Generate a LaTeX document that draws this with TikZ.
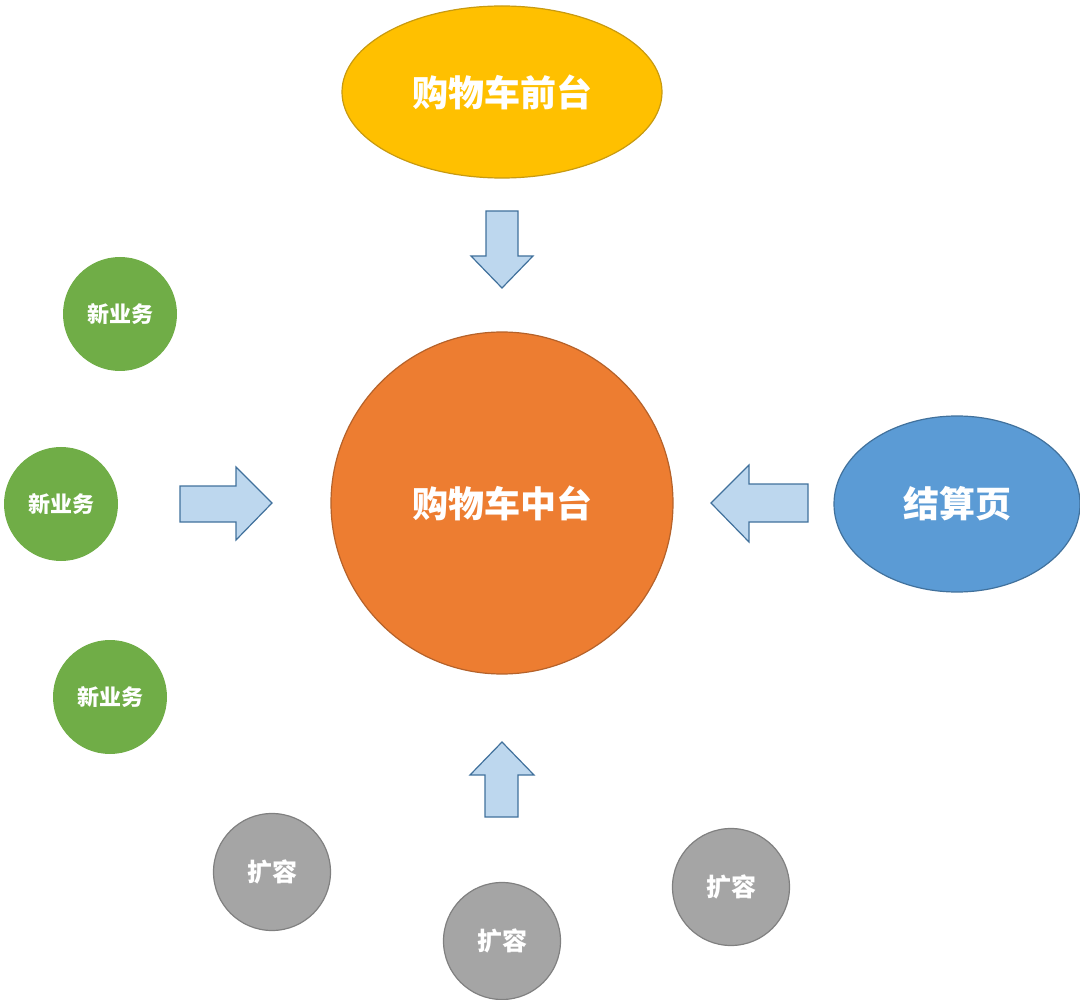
\documentclass[tikz,border=0pt]{standalone}
\usepackage{fontspec}
\newfontfamily\cjk{Noto Sans CJK SC}
\usetikzlibrary{shapes.geometric}
\definecolor{cyellow}{HTML}{FFC000}
\definecolor{cyellowb}{HTML}{C89A10}
\definecolor{corange}{HTML}{ED7D31}
\definecolor{corangeb}{HTML}{B5622A}
\definecolor{cblue}{HTML}{5B9BD5}
\definecolor{cblueb}{HTML}{41719C}
\definecolor{cgreen}{HTML}{70AD47}
\definecolor{cgray}{HTML}{A5A5A5}
\definecolor{cgrayb}{HTML}{808080}
\definecolor{carrow}{HTML}{BDD7EE}
\definecolor{carrowb}{HTML}{41719C}
\tikzset{
  lbl/.style={text=white,font=\cjk\bfseries},
  bigell/.style={ellipse,inner sep=0pt,line width=1.2pt,lbl,font=\cjk\bfseries\fontsize{36}{42}\selectfont},
  greenc/.style={circle,fill=cgreen,minimum size=114pt,inner sep=0pt,lbl,font=\cjk\bfseries\fontsize{22}{26}\selectfont},
  grayc/.style={circle,fill=cgray,draw=cgrayb,line width=1.2pt,minimum size=117pt,inner sep=0pt,lbl,font=\cjk\bfseries\fontsize{25}{29}\selectfont},
  blockarrow/.style={fill=carrow,draw=carrowb,line width=1.2pt,line join=miter},
}
\begin{document}
\begin{tikzpicture}[x=1pt,y=-1pt]
\useasboundingbox (0,0) rectangle (1080,1000);
% main shapes
\node[bigell,fill=cyellow,draw=cyellowb,minimum width=320pt,minimum height=172pt] (front) at (502,92) {购物车前台};
\node[bigell,circle,fill=corange,draw=corangeb,minimum size=342pt] (mid) at (502,503) {购物车中台};
\node[bigell,fill=cblue,draw=cblueb,minimum width=246pt,minimum height=176pt] (pay) at (957,504) {结算页};
% green
\node[greenc] (g1) at (120,314) {新业务};
\node[greenc] (g2) at (61,504) {新业务};
\node[greenc] (g3) at (110,697) {新业务};
% gray
\node[grayc] (e1) at (272,872) {扩容};
\node[grayc] (e2) at (502,941) {扩容};
\node[grayc] (e3) at (731,887) {扩容};
% block arrows
\draw[blockarrow] (486,211) -- (518,211) -- (518,256) -- (533,256) -- (502,288) -- (471,256) -- (486,256) -- cycle;
\draw[blockarrow] (180,486) -- (236,486) -- (236,467) -- (272,503) -- (236,540) -- (236,522) -- (180,522) -- cycle;
\draw[blockarrow] (808,484) -- (749,484) -- (749,465) -- (711,503) -- (749,542) -- (749,522) -- (808,522) -- cycle;
\draw[blockarrow] (485,817) -- (518,817) -- (518,775) -- (534,775) -- (502,742) -- (470,775) -- (485,775) -- cycle;
\end{tikzpicture}
\end{document}
